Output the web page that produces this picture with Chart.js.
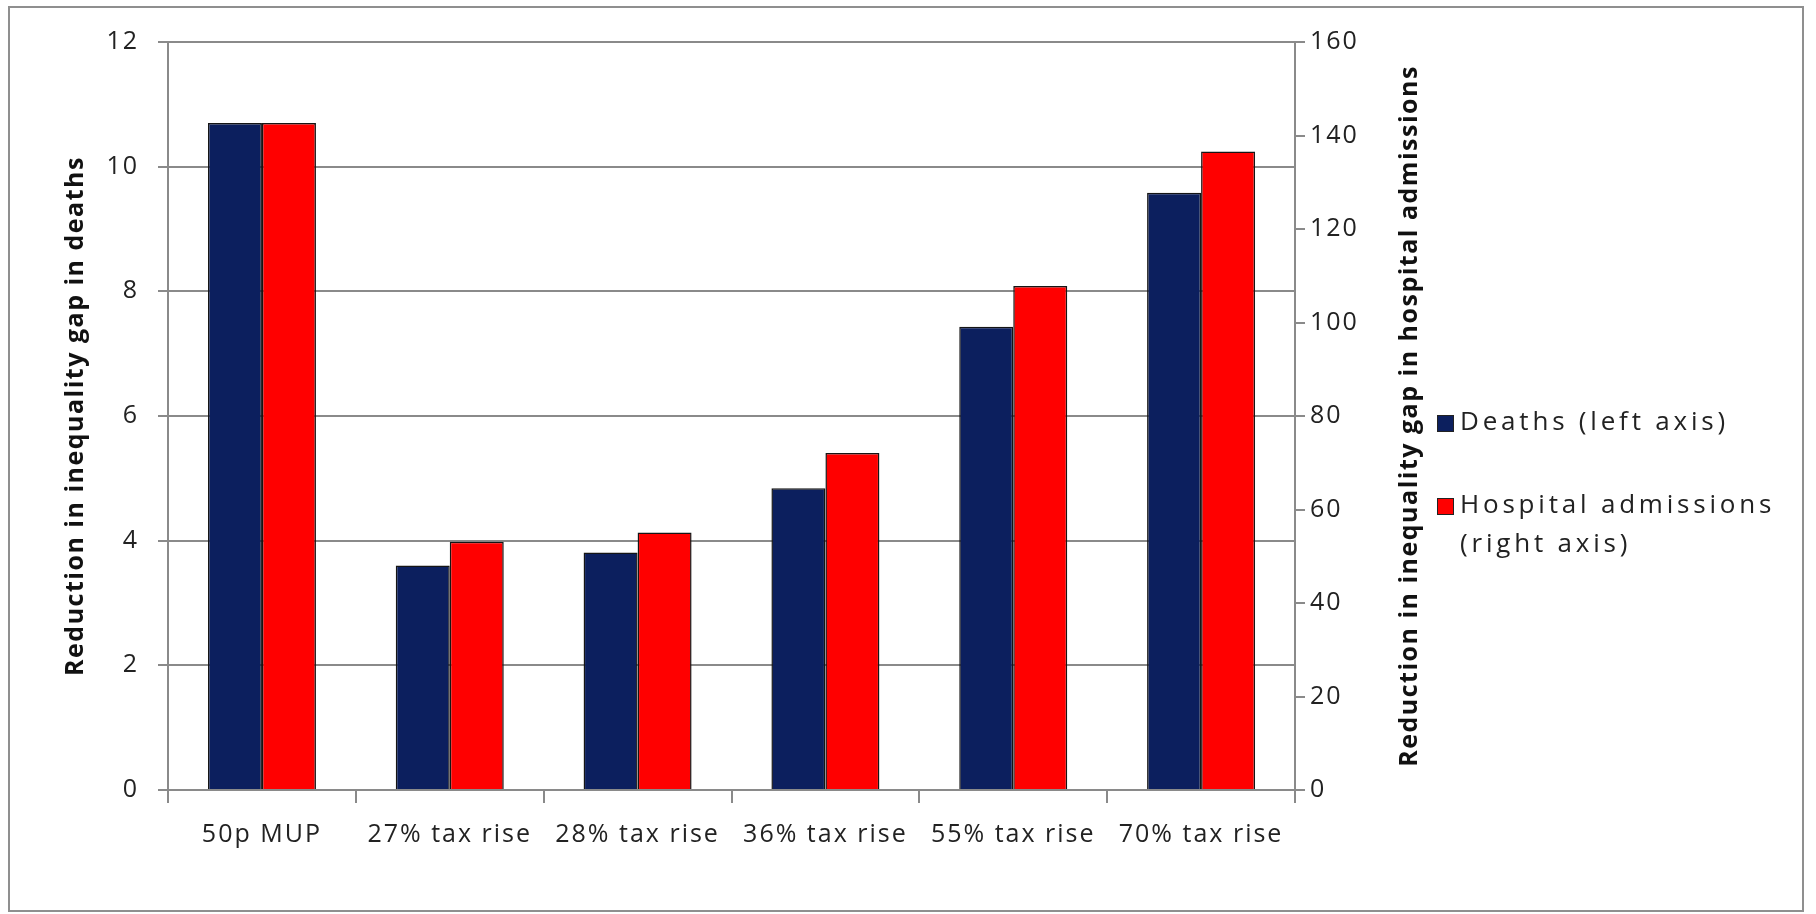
<!DOCTYPE html>
<html lang="en">

<head>
    <meta charset="UTF-8">
    <title>Reduction in inequality gap</title>
    <style>
        body {
            margin: 0;
            background: #ffffff;
        }

        .chart-frame {
            position: absolute;
            left: 8px;
            top: 6px;
            width: 1796px;
            height: 906px;
            box-sizing: border-box;
            border: 2px solid #8f8f8f;
            background: #ffffff;
        }

        #inequalityChart {
            display: block;
        }
    </style>
</head>

<body>
    <div class="chart-frame">
        <canvas id="inequalityChart" width="1792" height="902"></canvas>
    </div>

    <script src="https://cdn.jsdelivr.net/npm/chart.js"></script>
    <script>
        // Policy options along the x axis
        const policies = ['50p MUP', '27% tax rise', '28% tax rise', '36% tax rise', '55% tax rise', '70% tax rise'];

        // Reduction in inequality gap in deaths (left axis)
        const deaths = [10.7, 3.6, 3.81, 4.84, 7.43, 9.58];

        // Reduction in inequality gap in hospital admissions (right axis)
        const admissions = [142.7, 53.1, 55.1, 72.1, 107.8, 136.6];

        const seriesLabels = ['Deaths (left axis)', ['Hospital admissions', '(right axis)']];
        const leftTitle = 'Reduction in inequality gap in deaths';
        const rightTitle = 'Reduction in inequality gap in hospital admissions';

        const FONT = "'Open Sans', sans-serif";
        const GRID = '#8a8a8a';

        // loose, spread-out lettering for all chart text
        const spacing = {
            id: 'spacing',
            beforeUpdate(chart) { chart.ctx.letterSpacing = '2px'; },
            beforeDraw(chart) { chart.ctx.letterSpacing = '2px'; }
        };

        // both axis titles read bottom to top; legend sits right of the second axis
        const sideDecor = {
            id: 'sideDecor',
            afterDraw(chart) {
                const ctx = chart.ctx;
                const area = chart.chartArea;
                const midY = (area.top + area.bottom) / 2;

                [[66, leftTitle], [1400, rightTitle]].forEach(([x, text]) => {
                    ctx.save();
                    ctx.letterSpacing = '1.5px';
                    ctx.fillStyle = '#111';
                    ctx.font = "bold 25px " + FONT;
                    ctx.textAlign = 'center';
                    ctx.textBaseline = 'middle';
                    ctx.translate(x, midY);
                    ctx.rotate(-Math.PI / 2);
                    ctx.fillText(text, 0, 0);
                    ctx.restore();
                });

                ctx.save();
                ctx.letterSpacing = '3.8px';
                ctx.font = "26px " + FONT;
                ctx.textBaseline = 'middle';
                ctx.textAlign = 'left';
                const rows = [415, 498];
                chart.data.datasets.forEach((ds, i) => {
                    const y = rows[i];
                    ctx.fillStyle = ds.backgroundColor;
                    ctx.fillRect(1427, y - 8, 17, 17);
                    ctx.strokeStyle = '#222';
                    ctx.lineWidth = 1;
                    ctx.strokeRect(1427.5, y - 7.5, 16, 16);
                    ctx.fillStyle = '#222';
                    const lines = Array.isArray(seriesLabels[i]) ? seriesLabels[i] : [seriesLabels[i]];
                    lines.forEach((t, j) => ctx.fillText(t, 1450, y + j * 39));
                });
                ctx.restore();
            }
        };

        const ctx = document.getElementById('inequalityChart').getContext('2d');
        new Chart(ctx, {
            type: 'bar',
            data: {
                labels: policies,
                datasets: [{
                    label: 'Deaths (left axis)',
                    data: deaths,
                    yAxisID: 'y',
                    backgroundColor: '#0c1f5e',
                    borderColor: '#151515',
                    borderWidth: 1.5
                }, {
                    label: 'Hospital admissions (right axis)',
                    data: admissions,
                    yAxisID: 'y1',
                    backgroundColor: '#ff0000',
                    borderColor: '#151515',
                    borderWidth: 1.5
                }]
            },
            options: {
                responsive: false,
                animation: false,
                categoryPercentage: 0.575,
                barPercentage: 1.0,
                layout: {
                    padding: { left: 0, top: 34, right: 367, bottom: 0 }
                },
                plugins: {
                    legend: { display: false },
                    tooltip: { enabled: false }
                },
                scales: {
                    x: {
                        afterFit: (scale) => { scale.height = 120; },
                        grid: {
                            offset: true,
                            drawOnChartArea: false,
                            color: GRID,
                            lineWidth: 2,
                            tickLength: 13
                        },
                        border: { display: true, color: GRID, width: 2 },
                        ticks: {
                            color: '#222',
                            padding: 17,
                            maxRotation: 0,
                            font: { family: FONT, size: 25 }
                        }
                    },
                    y: {
                        position: 'left',
                        min: 0,
                        max: 12,
                        afterFit: (scale) => { scale.width = 158; },
                        grid: {
                            color: GRID,
                            lineWidth: 2,
                            tickLength: 10
                        },
                        border: { display: true, color: GRID, width: 2 },
                        ticks: {
                            stepSize: 2,
                            color: '#222',
                            padding: 19,
                            font: { family: FONT, size: 25 }
                        }
                    },
                    y1: {
                        position: 'right',
                        min: 0,
                        max: 160,
                        afterFit: (scale) => { scale.width = 140; },
                        grid: {
                            drawOnChartArea: false,
                            color: GRID,
                            lineWidth: 2,
                            tickLength: 10
                        },
                        border: { display: true, color: GRID, width: 2 },
                        ticks: {
                            stepSize: 20,
                            color: '#222',
                            padding: 5,
                            font: { family: FONT, size: 25 }
                        }
                    }
                }
            },
            plugins: [spacing, sideDecor]
        });
    </script>
</body>

</html>
